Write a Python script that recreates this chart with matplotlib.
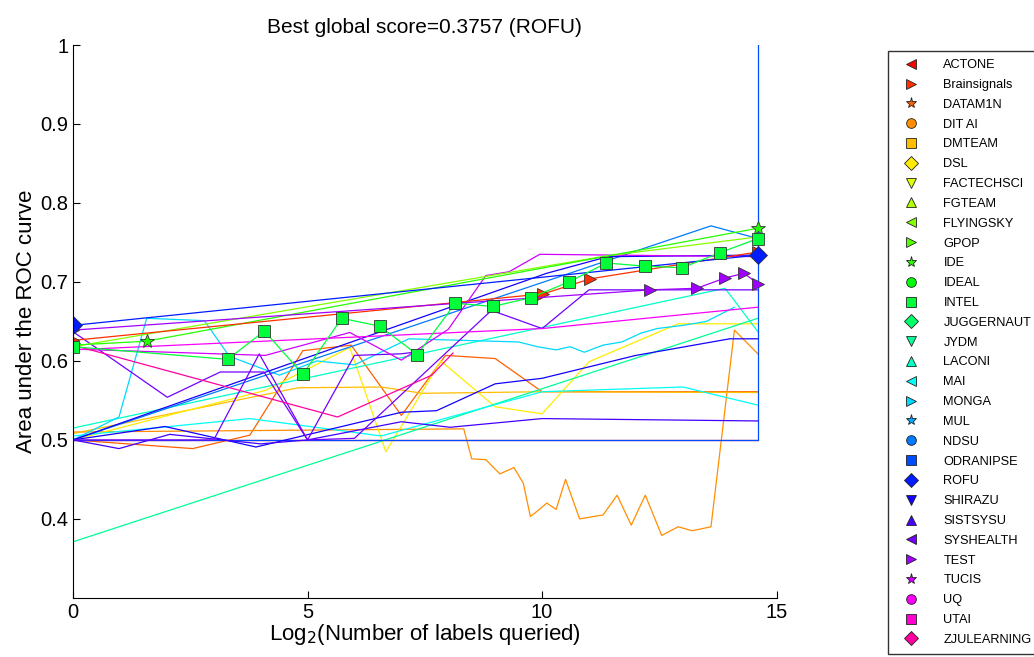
import numpy as np
import matplotlib.pyplot as plt
from matplotlib.lines import Line2D

teams = ['ACTONE', 'Brainsignals', 'DATAM1N', 'DIT AI', 'DMTEAM', 'DSL', 'FACTECHSCI',
         'FGTEAM', 'FLYINGSKY', 'GPOP', 'IDE', 'IDEAL', 'INTEL', 'JUGGERNAUT', 'JYDM',
         'LACONI', 'MAI', 'MONGA', 'MUL', 'NDSU', 'ODRANIPSE', 'ROFU', 'SHIRAZU',
         'SISTSYSU', 'SYSHEALTH', 'TEST', 'TUCIS', 'UQ', 'UTAI', 'ZJULEARNING']
marker_cycle = ['<', '>', '*', 'o', 's', 'D', 'v', '^']

# learning curves: log2(labels) vs AUC
actone_x = [0, 14.6]
actone_y = [0.5, 0.5]
brain_x = [0, 10.03, 11.03, 14.6]
brain_y = [0.626, 0.685, 0.704, 0.738]
datam_x = [0, 2.55, 3.77, 4.9, 5.93, 7.0, 7.94, 9.0, 10.0, 14.6]
datam_y = [0.5, 0.489, 0.506, 0.613, 0.62, 0.531, 0.607, 0.603, 0.561, 0.561]
ditai_x = [0, 8.33, 8.5, 8.8, 9.1, 9.4, 9.6, 9.75, 9.9, 10.1, 10.3, 10.5, 10.8, 11.0, 11.3,
           11.6, 11.9, 12.2, 12.55, 12.9, 13.2, 13.6, 14.1, 14.6]
ditai_y = [0.51, 0.514, 0.476, 0.475, 0.457, 0.465, 0.445, 0.403, 0.41, 0.42, 0.412, 0.45,
           0.40, 0.402, 0.405, 0.43, 0.392, 0.43, 0.379, 0.39, 0.385, 0.39, 0.639, 0.609]
dmteam_x = [0, 4.8, 6.57, 7.45, 10.0, 14.6]
dmteam_y = [0.508, 0.566, 0.567, 0.559, 0.561, 0.56]
dsl_x = [0, 4.12, 5.9, 6.67, 7.84, 9.0, 10.0, 11.0, 12.9, 14.6]
dsl_y = [0.5, 0.563, 0.617, 0.485, 0.60, 0.542, 0.533, 0.599, 0.647, 0.647]
ide_x = [0, 1.57, 14.6]
ide_y = [0.62, 0.625, 0.768]
flying_x = [0, 11.37, 14.6]
flying_y = [0.618, 0.733, 0.757]
intel_x = [0, 3.30, 4.08, 4.90, 5.73, 6.54, 7.34, 8.15, 8.95, 9.76, 10.57, 11.37,
           12.19, 12.99, 13.79, 14.6]
intel_y = [0.618, 0.602, 0.638, 0.583, 0.654, 0.644, 0.608, 0.673, 0.669, 0.680, 0.700,
           0.724, 0.720, 0.718, 0.737, 0.755]
jydm_x = [0, 14.6]
jydm_y = [0.371, 0.654]
laconi_x = [0, 13.9, 14.6]
laconi_y = [0.515, 0.692, 0.637]
mai_x = [0, 3.77, 6.57, 10.0, 13.0, 14.6]
mai_y = [0.505, 0.527, 0.505, 0.561, 0.567, 0.544]
monga_x = [0, 0.98, 1.57, 2.8, 3.33, 4.4, 5.2, 6.0, 7.16, 9.5, 9.9, 10.3, 10.6, 10.9,
           11.3, 11.7, 12.1, 12.45, 13.0, 13.5, 14.1]
monga_y = [0.5, 0.529, 0.654, 0.651, 0.606, 0.582, 0.6, 0.595, 0.628, 0.624, 0.618, 0.614,
           0.618, 0.611, 0.62, 0.624, 0.635, 0.641, 0.645, 0.65, 0.668]
ndsu_x = [0, 13.6, 14.6]
ndsu_y = [0.5, 0.771, 0.755]
odra_x = [0, 14.6, 14.6]
odra_y = [0.5, 0.5, 1.0]
rofu_x = [0, 14.6]
rofu_y = [0.645, 0.734]
blue2_x = [0, 10.1, 11.4, 14.6]
blue2_y = [0.5, 0.711, 0.732, 0.734]
shirazu_x = [0, 1.96, 3.9, 7.0, 7.75, 9.0, 10.0, 12.0, 14.0, 14.6]
shirazu_y = [0.5, 0.517, 0.491, 0.535, 0.537, 0.571, 0.578, 0.607, 0.628, 0.628]
sist_x = [0, 0.98, 2.06, 4.0, 5.0, 7.0, 8.04, 10.0, 14.6]
sist_y = [0.5, 0.489, 0.507, 0.495, 0.5, 0.523, 0.516, 0.527, 0.524]
syshealth_x = [0, 2.01, 3.14, 4.07, 5.0, 6.0, 7.0, 7.4]
syshealth_y = [0.637, 0.554, 0.586, 0.586, 0.5, 0.607, 0.609, 0.612]
test_x = [0, 12.3, 13.3, 13.9, 14.3, 14.6]
test_y = [0.639, 0.690, 0.692, 0.705, 0.711, 0.698]
sys2_x = [0, 3.0, 3.97, 5.0, 6.0, 8.92, 10.0, 11.0, 14.6]
sys2_y = [0.5, 0.5, 0.609, 0.5, 0.502, 0.664, 0.641, 0.69, 0.69]
tucis_x = [0, 4.1, 5.9, 7.0, 8.0, 8.8, 9.3, 9.95, 14.6]
tucis_y = [0.615, 0.607, 0.636, 0.601, 0.64, 0.708, 0.713, 0.735, 0.732]
uq_x = [0, 10.0, 14.6]
uq_y = [0.614, 0.641, 0.668]
zju_x = [0, 5.64, 7.65, 8.1]
zju_y = [0.62, 0.529, 0.582, 0.61]

cmap = plt.cm.hsv
colors = {t: cmap(i / 32) for i, t in enumerate(teams)}
markers = {t: marker_cycle[i % 8] for i, t in enumerate(teams)}

curves = [
    ('ACTONE', actone_x, actone_y, False), ('DATAM1N', datam_x, datam_y, False),
    ('DIT AI', ditai_x, ditai_y, False), ('DMTEAM', dmteam_x, dmteam_y, False),
    ('DSL', dsl_x, dsl_y, False), ('JYDM', jydm_x, jydm_y, False),
    ('LACONI', laconi_x, laconi_y, False), ('MAI', mai_x, mai_y, False),
    ('MONGA', monga_x, monga_y, False), ('NDSU', ndsu_x, ndsu_y, False),
    ('ODRANIPSE', odra_x, odra_y, False), ('SHIRAZU', blue2_x, blue2_y, False),
    ('SHIRAZU', shirazu_x, shirazu_y, False), ('SISTSYSU', sist_x, sist_y, False),
    ('SYSHEALTH', syshealth_x, syshealth_y, False), ('SYSHEALTH', sys2_x, sys2_y, False),
    ('TUCIS', tucis_x, tucis_y, False), ('UQ', uq_x, uq_y, False),
    ('ZJULEARNING', zju_x, zju_y, False), ('FLYINGSKY', flying_x, flying_y, False),
    ('IDE', ide_x, ide_y, True), ('Brainsignals', brain_x, brain_y, True),
    ('TEST', test_x, test_y, True), ('ROFU', rofu_x, rofu_y, True),
    ('INTEL', intel_x, intel_y, True),
]

plt.rcParams['font.family'] = ['Liberation Sans', 'DejaVu Sans']
fig = plt.figure(figsize=(10.34, 6.57), dpi=100)
ax = fig.add_axes([0.0706, 0.090, 0.6805, 0.8415])

for team, xs, ys, mk in curves:
    ax.plot(xs, ys, color=colors[team], lw=0.9)
    if mk:
        ms = 9 if markers[team] != '*' else 10
        ax.plot(xs, ys, linestyle='none', marker=markers[team], markersize=ms,
                markerfacecolor=colors[team], markeredgecolor='#333333', markeredgewidth=0.6)

ax.set_xlim(0, 15)
ax.set_ylim(0.3, 1.0)
ax.set_xticks([0, 5, 10, 15])
ax.set_yticks([0.4, 0.5, 0.6, 0.7, 0.8, 0.9, 1.0])
ax.set_yticklabels(['0.4', '0.5', '0.6', '0.7', '0.8', '0.9', '1'])
ax.spines['top'].set_visible(False)
ax.spines['right'].set_visible(False)
ax.tick_params(labelsize=14.5, direction='in', length=5)
ax.set_title('Best global score=0.3757 (ROFU)', fontsize=15, pad=9)
ax.set_xlabel('Log$_2$(Number of labels queried)', fontsize=16, labelpad=0)
ax.set_ylabel('Area under the ROC curve', fontsize=16, labelpad=2)

handles = [Line2D([], [], linestyle='none', marker=markers[t], markersize=7 if markers[t] != '*' else 8,
                  markerfacecolor=colors[t], markeredgecolor='#222222', markeredgewidth=0.6)
           for t in teams]
fig.legend(handles, teams, loc='upper left', bbox_to_anchor=(0.859, 0.922), fontsize=9.2,
           frameon=True, fancybox=False, edgecolor='black', labelspacing=0.612,
           handlelength=2.4, handletextpad=1.3, borderpad=0.62, borderaxespad=0)

fig.savefig('out.png', dpi=100)
